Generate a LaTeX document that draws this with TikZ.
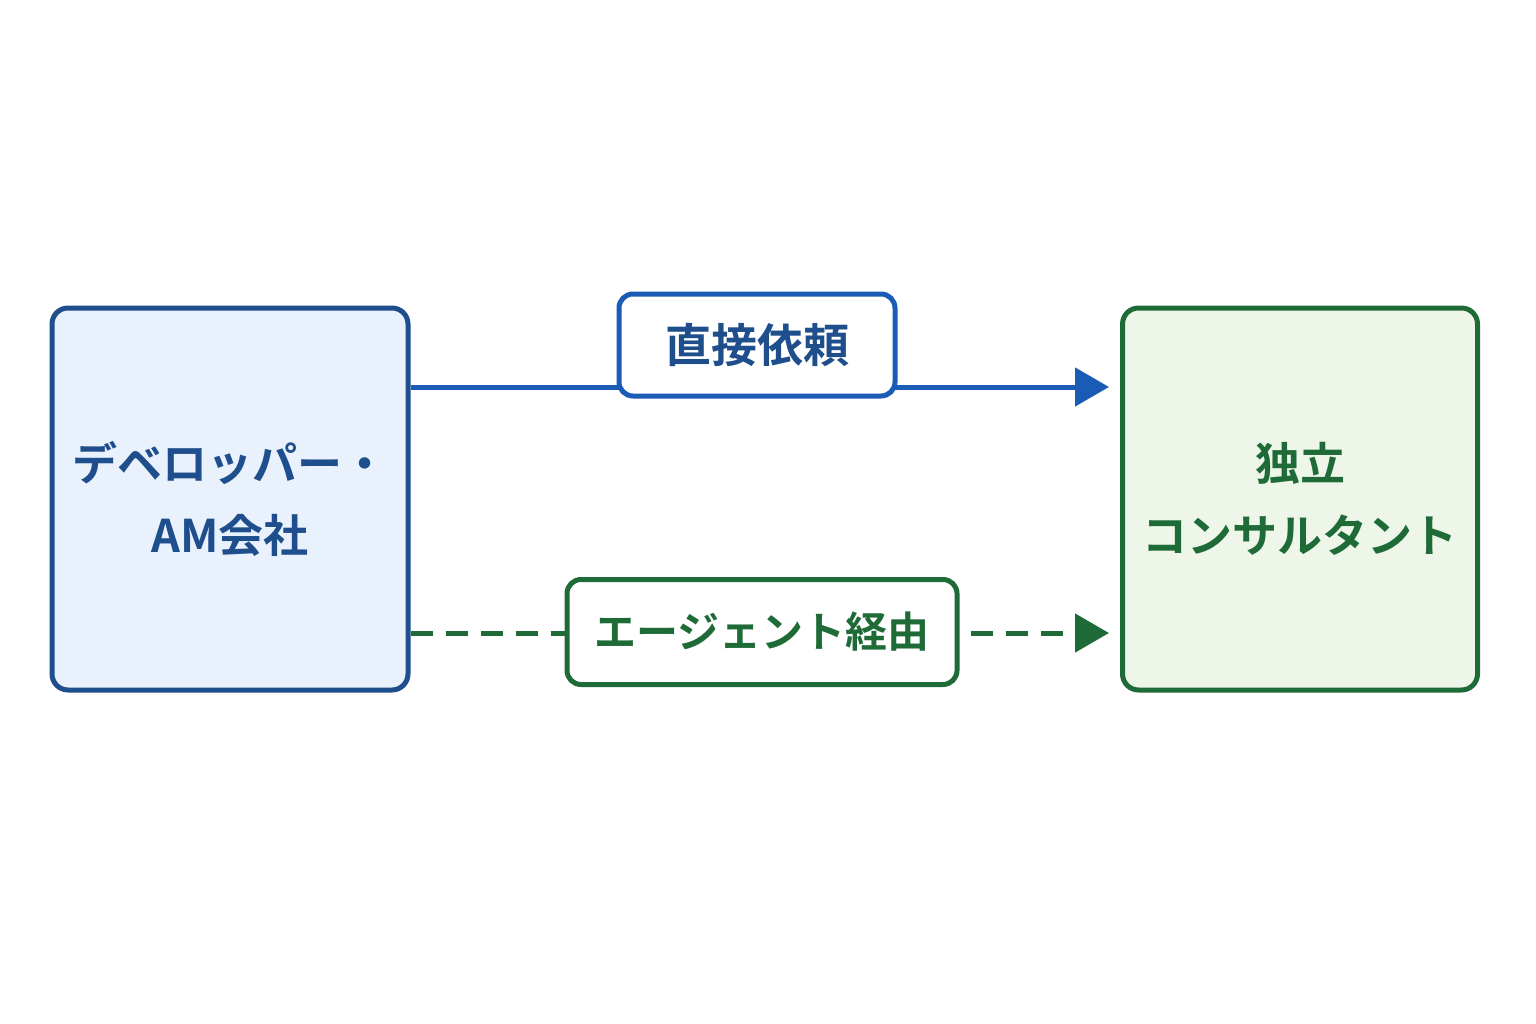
\documentclass[tikz,border=0pt]{standalone}
\usepackage{fontspec}
\setmainfont{Noto Sans CJK JP}[BoldFont={Noto Sans CJK JP Bold}]
\usetikzlibrary{arrows.meta}
\definecolor{bdark}{HTML}{1F4E8C}
\definecolor{bline}{HTML}{1A5BB5}
\definecolor{bfill}{HTML}{E8F1FC}
\definecolor{gdark}{HTML}{1E6B38}
\definecolor{gfill}{HTML}{EEF6E9}
\begin{document}
\begin{tikzpicture}[x=1pt,y=-1pt,
  box/.style={draw,line width=5pt,rounded corners=16pt,inner sep=0pt,align=center,font=\fontsize{45}{72}\selectfont\bfseries},
  lab/.style={draw,fill=white,line width=5pt,rounded corners=14pt,inner sep=0pt},
  conn/.style={line width=5pt,-{Triangle[length=34pt,width=38pt]},shorten >=11pt}]
\useasboundingbox (0,0) rectangle (1536,1024);
\node[box,color=bdark,fill=bfill,text=bdark,minimum width=356pt,minimum height=382pt] (L) at (230,499) {デベロッパー・\\AM会社};
\node[box,color=gdark,fill=gfill,text=gdark,minimum width=355pt,minimum height=382pt] (R) at (1300,499) {独立\\コンサルタント};
\coordinate (a1) at (L.east |- 0,387);
\coordinate (a2) at (R.west |- 0,387);
\coordinate (b1) at (L.east |- 0,633);
\coordinate (b2) at (R.west |- 0,633);
\draw[conn,bline] (a1) -- (a2);
\draw[conn,gdark,dash pattern=on 22pt off 13pt] (b1) -- (b2);
\node[lab,draw=bline,text=bdark,minimum width=276pt,minimum height=102pt,font=\fontsize{46}{52}\selectfont\bfseries] (t) at (757,345) {直接依頼};
\node[lab,draw=gdark,text=gdark,minimum width=390pt,minimum height=105pt,font=\fontsize{42}{50}\selectfont\bfseries] (g) at (762,632) {エージェント経由};
\end{tikzpicture}
\end{document}
